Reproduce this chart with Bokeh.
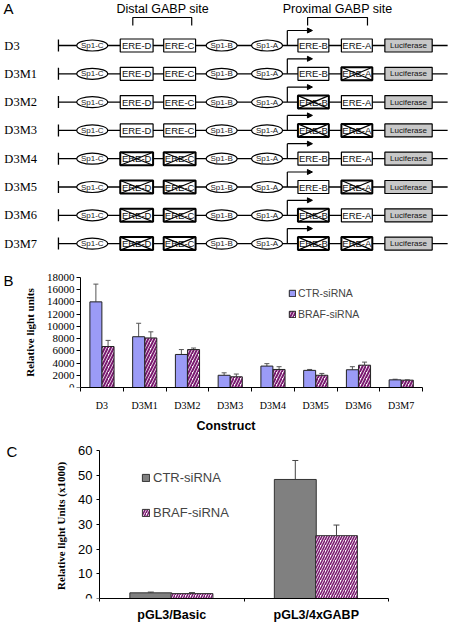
import numpy as np
from bokeh.plotting import figure
from bokeh.models import (Range1d, ColumnDataSource, Whisker, TeeHead, Arrow, NormalHead,
                          FixedTicker, Legend, LegendItem)
from bokeh.transform import dodge
from bokeh.core.properties import value
from bokeh.embed import file_html
from bokeh.resources import INLINE

# ---------------- data ----------------
constructs = ["D3", "D3M1", "D3M2", "D3M3", "D3M4", "D3M5", "D3M6", "D3M7"]
mutated = [[], ["ERE-A"], ["ERE-B"], ["ERE-B", "ERE-A"], ["ERE-D", "ERE-C"],
           ["ERE-D", "ERE-C", "ERE-A"], ["ERE-D", "ERE-C", "ERE-B"],
           ["ERE-D", "ERE-C", "ERE-B", "ERE-A"]]
elements = ["Sp1-C", "ERE-D", "ERE-C", "Sp1-B", "Sp1-A", "ERE-B", "ERE-A", "Luciferase"]
site_labels = ["Distal GABP site", "Proximal GABP site"]

b_ctr = [14000, 8300, 5400, 2000, 3500, 2800, 2900, 1250]
b_ctr_err = [16900, 10500, 6200, 2400, 3900, 2950, 3400, 1350]
b_braf = [6700, 8100, 6200, 1750, 2950, 2000, 3650, 1200]
b_braf_err = [7700, 9100, 6450, 2200, 3400, 2300, 4150, 1250]
b_ticks = list(range(0, 18001, 2000))

c_cats = ["pGL3/Basic", "pGL3/4xGABP"]
c_ctr = [2.3, 48.3]
c_ctr_err = [2.6, 56.0]
c_braf = [2.0, 25.5]
c_braf_err = [2.4, 29.8]
c_ticks = list(range(0, 61, 10))

series = ["CTR-siRNA", "BRAF-siRNA"]

SANS = "Liberation Sans"
SERIF = "Liberation Serif"
PURPLE = "#7a1a70"
W = 451

# ---------------- panel A (schematic) ----------------
pa = figure(width=W, height=252, x_range=Range1d(0, 467), y_range=Range1d(252, 0),
            x_axis_type=None, y_axis_type=None, output_backend="svg",
            toolbar_location=None, min_border=0)
pa.grid.visible = False
pa.outline_line_color = None

el_x = {"Sp1-C": 95, "ERE-D": 141, "ERE-C": 185.5, "Sp1-B": 229, "Sp1-A": 276,
        "ERE-B": 324, "ERE-A": 369, "Luciferase": 422.5}
el_w = {"Sp1-C": 32, "ERE-D": 34, "ERE-C": 33, "Sp1-B": 32, "Sp1-A": 32,
        "ERE-B": 32, "ERE-A": 32, "Luciferase": 49}
row_y = [45 + 28.3 * i for i in range(len(constructs))]

pa.segment(x0=[60] * len(row_y), y0=row_y, x1=[463] * len(row_y), y1=row_y,
           line_color="black", line_width=1.3)
pa.segment(x0=[60] * len(row_y), y0=[y - 6 for y in row_y], x1=[60] * len(row_y),
           y1=[y + 6 for y in row_y], line_color="black", line_width=1.3)
pa.segment(x0=[297] * len(row_y), y0=row_y, x1=[297] * len(row_y),
           y1=[y - 15 for y in row_y], line_color="black", line_width=1.2)
arr_src = ColumnDataSource(dict(x0=[297] * len(row_y), y0=[y - 15 for y in row_y],
                                x1=[323] * len(row_y), y1=[y - 15 for y in row_y]))
pa.add_layout(Arrow(end=NormalHead(size=5, fill_color="black", line_color="black"),
                    x_start="x0", y_start="y0", x_end="x1", y_end="y1",
                    source=arr_src, line_width=1.2))

ell = dict(x=[], y=[], w=[], t=[])
box = dict(x=[], y=[], w=[], t=[], fill=[], lw=[], fs=[])
cross = dict(x0=[], y0=[], x1=[], y1=[])
for r, y in enumerate(row_y):
    for e in elements:
        if e.startswith("Sp1"):
            ell["x"].append(el_x[e]); ell["y"].append(y); ell["w"].append(el_w[e]); ell["t"].append(e)
        else:
            mut = e in mutated[r]
            box["x"].append(el_x[e]); box["y"].append(y); box["w"].append(el_w[e]); box["t"].append(e)
            box["fill"].append("#c8c8c8" if e == "Luciferase" else "white")
            box["lw"].append(2.0 if mut else 1.2)
            box["fs"].append("8px" if e == "Luciferase" else "9.5px")
            if mut:
                hw = el_w[e] / 2
                cross["x0"] += [el_x[e] - hw, el_x[e] - hw]
                cross["y0"] += [y - 6.5, y + 6.5]
                cross["x1"] += [el_x[e] + hw, el_x[e] + hw]
                cross["y1"] += [y + 6.5, y - 6.5]

ell_src = ColumnDataSource(ell)
box_src = ColumnDataSource(box)
pa.ellipse(x="x", y="y", width="w", height=11, source=ell_src, fill_color="white",
           line_color="black", line_width=1.2)
pa.text(x="x", y="y", text="t", source=ell_src, text_align="center", text_baseline="middle",
        text_font=value(SANS), text_font_size="8px", text_color="#222222")
pa.rect(x="x", y="y", width="w", height=13, source=box_src, fill_color="fill",
        line_color="black", line_width="lw")
pa.text(x="x", y="y", text="t", source=box_src, text_align="center", text_baseline="middle",
        text_font=value(SANS), text_font_size="fs", text_color="#111111")
pa.segment(x0="x0", y0="y0", x1="x1", y1="y1", source=ColumnDataSource(cross),
           line_color="black", line_width=1.2)

pa.multi_line(xs=[[137, 137, 198, 198], [318, 318, 380, 380]],
              ys=[[25, 17, 17, 25], [25, 17, 17, 25]], line_color="black", line_width=1.2)
pa.text(x=[168, 349], y=[8, 8], text=site_labels, text_align="center", text_baseline="middle",
        text_font=value(SANS), text_font_size="12.5px", text_color="black")
pa.text(x=[3], y=[8], text=["A"], text_align="left", text_baseline="middle",
        text_font=value(SANS), text_font_size="15px", text_color="black")
pa.text(x=[4] * len(row_y), y=row_y, text=constructs, text_align="left", text_baseline="middle",
        text_font=value(SERIF), text_font_size="12.5px", text_color="black")


def bar_panel(n, ymax, axis_left, axis_right, frame_h, top_pad, bottom_border):
    """Figure whose frame spans the full width; the y axis is pinned at the first boundary."""
    px_per_x = (axis_right - axis_left) / n
    x0 = 0.5 - axis_left / px_per_x
    x1 = n + 0.5 + (W - axis_right) / px_per_x
    y_per_px = ymax / (frame_h - top_pad)
    p = figure(width=W, height=frame_h + bottom_border,
               x_range=Range1d(x0, x1), y_range=Range1d(0, ymax + top_pad * y_per_px),
               output_backend="svg", toolbar_location=None,
               min_border_left=0, min_border_right=0, min_border_top=0,
               min_border_bottom=bottom_border)
    p.grid.visible = False
    p.outline_line_color = None
    p.yaxis.fixed_location = 0.5
    p.yaxis.bounds = (0, ymax)
    p.xaxis.bounds = (0.5, n + 0.5)
    return p, x0, px_per_x, y_per_px


def style_axes(p, n, cats, yticks):
    xs = list(range(1, n + 1))
    p.xaxis.ticker = FixedTicker(ticks=xs, minor_ticks=[i + 0.5 for i in range(n + 1)])
    p.xaxis.major_label_overrides = {i: c for i, c in zip(xs, cats)}
    p.xaxis.major_tick_line_color = None
    p.xaxis.major_tick_out = 0
    p.xaxis.minor_tick_in = 0
    p.xaxis.minor_tick_line_color = "black"
    p.yaxis.ticker = FixedTicker(ticks=yticks, minor_ticks=[])
    p.yaxis.major_tick_in = 0
    for ax in (p.xaxis, p.yaxis):
        ax.axis_line_color = "black"
        ax.major_label_text_color = "black"
        ax.axis_label_text_color = "black"


# ---------------- panel B ----------------
nb = len(constructs)
xb = list(range(1, nb + 1))
src_b = ColumnDataSource(dict(x=xb, ctr=b_ctr, ctr_err=b_ctr_err, braf=b_braf, braf_err=b_braf_err))
pb, bx0, bppx, bypp = bar_panel(nb, 18000, 80, 422, 141, 26, 42)
style_axes(pb, nb, constructs, b_ticks)

rb1 = pb.vbar(x=dodge("x", -0.14), top="ctr", width=0.28, source=src_b, fill_color="#9b9bf7",
              line_color="#222222", line_width=1)
rb2 = pb.vbar(x=dodge("x", 0.145), top="braf", width=0.28, source=src_b, fill_color="white",
              hatch_pattern="/", hatch_color=PURPLE, hatch_weight=2, hatch_scale=6,
              line_color="#222222", line_width=1)
for col, top, off in [("ctr_err", "ctr", -0.14), ("braf_err", "braf", 0.145)]:
    pb.add_layout(Whisker(source=src_b, base=dodge("x", off), upper=col, lower=top,
                          upper_head=TeeHead(size=5, line_color="#555555"), lower_head=None,
                          line_color="#555555", line_width=1))

pb.xaxis.minor_tick_out = 4
pb.xaxis.major_label_standoff = 8
pb.xaxis.major_label_text_font = SERIF
pb.xaxis.major_label_text_font_size = "10px"
pb.xaxis.axis_label = "Construct"
pb.xaxis.axis_label_text_font = SANS
pb.xaxis.axis_label_text_font_style = "bold"
pb.xaxis.axis_label_text_font_size = "12.5px"
pb.xaxis.axis_label_standoff = 5
pb.yaxis.major_tick_out = 4
pb.yaxis.major_label_standoff = 2
pb.yaxis.major_label_text_font = SERIF
pb.yaxis.major_label_text_font_size = "11px"
pb.yaxis.axis_label = "Relative light units"
pb.yaxis.axis_label_text_font = SERIF
pb.yaxis.axis_label_text_font_style = "bold"
pb.yaxis.axis_label_text_font_size = "11px"
pb.yaxis.axis_label_standoff = 8

pb.text(x=[bx0 + 3 / bppx], y=[18000 + (26 - 29) * bypp], text=["B"], text_align="left",
        text_baseline="middle", text_font=value(SANS), text_font_size="15px", text_color="black")

leg_b = Legend(items=[LegendItem(label=series[0], renderers=[rb1]),
                      LegendItem(label=series[1], renderers=[rb2])],
               location=(288, 67), border_line_color=None, background_fill_alpha=0,
               padding=0, margin=0, spacing=9, glyph_width=8, glyph_height=8,
               label_height=8, label_standoff=2, label_text_font=SANS,
               label_text_font_size="10.5px")
pb.add_layout(leg_b)

# ---------------- panel C ----------------
nc = len(c_cats)
xc = list(range(1, nc + 1))
src_c = ColumnDataSource(dict(x=xc, ctr=c_ctr, ctr_err=c_ctr_err, braf=c_braf, braf_err=c_braf_err))
pc, cx0, cppx, cypp = bar_panel(nc, 60, 99, 388, 167, 15.5, 22)
style_axes(pc, nc, c_cats, c_ticks)

rc1 = pc.vbar(x=dodge("x", -0.145), top="ctr", width=0.29, source=src_c, fill_color="#808080",
              line_color="#333333", line_width=1)
rc2 = pc.vbar(x=dodge("x", 0.14), top="braf", width=0.29, source=src_c, fill_color="white",
              hatch_pattern="/", hatch_color=PURPLE, hatch_weight=1.6, hatch_scale=5,
              line_color="#333333", line_width=1)
for col, top, off in [("ctr_err", "ctr", -0.145), ("braf_err", "braf", 0.14)]:
    pc.add_layout(Whisker(source=src_c, base=dodge("x", off), upper=col, lower=top,
                          upper_head=TeeHead(size=6, line_color="#444444"), lower_head=None,
                          line_color="#444444", line_width=1))

pc.xaxis.minor_tick_out = 3
pc.xaxis.major_label_standoff = 6
pc.xaxis.major_label_text_font = SANS
pc.xaxis.major_label_text_font_style = "bold"
pc.xaxis.major_label_text_font_size = "12.5px"
pc.yaxis.major_tick_out = 3
pc.yaxis.major_label_standoff = 4
pc.yaxis.major_label_text_font = SANS
pc.yaxis.major_label_text_font_size = "13px"
pc.yaxis.axis_label = "Relative light Units  (x1000)"
pc.yaxis.axis_label_text_font = SERIF
pc.yaxis.axis_label_text_font_style = "bold"
pc.yaxis.axis_label_text_font_size = "11px"
pc.yaxis.axis_label_standoff = 8

pc.text(x=[cx0 + 6 / cppx], y=[60 + (15.5 - 16) * cypp], text=["C"], text_align="left",
        text_baseline="middle", text_font=value(SANS), text_font_size="15px", text_color="black")

leg_c = Legend(items=[LegendItem(label=series[0], renderers=[rc1]),
                      LegendItem(label=series[1], renderers=[rc2])],
               location=(141, 78), border_line_color=None, background_fill_alpha=0,
               padding=0, margin=0, spacing=20, glyph_width=9, glyph_height=9,
               label_height=12, label_standoff=3, label_text_font=SANS,
               label_text_font_size="13px")
pc.add_layout(leg_c)

open("out.html", "w").write(file_html([pa, pb, pc], INLINE))
